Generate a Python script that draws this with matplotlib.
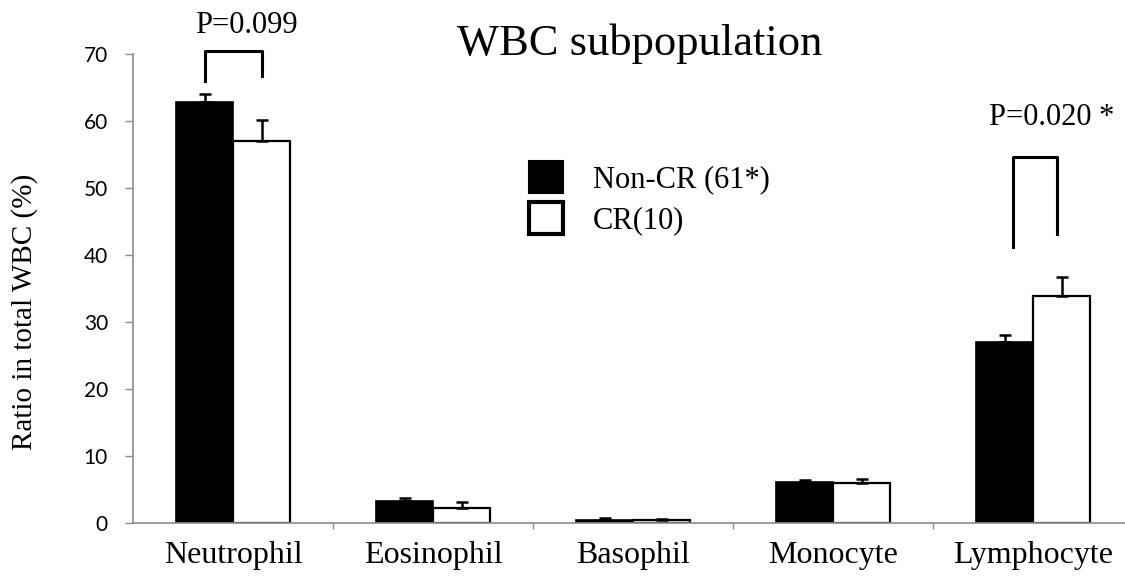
import matplotlib
matplotlib.use("Agg")
import matplotlib.pyplot as plt
from matplotlib.patches import Patch
import numpy as np

# data
cells = ["Neutrophil", "Eosinophil", "Basophil", "Monocyte", "Lymphocyte"]
noncr = [62.9, 3.3, 0.5, 6.1, 27.0]
noncr_err = [1.2, 0.4, 0.2, 0.3, 1.1]
cr = [57.0, 2.3, 0.4, 5.9, 33.9]
cr_err = [3.2, 0.8, 0.2, 0.7, 2.8]
yticks = [0, 10, 20, 30, 40, 50, 60, 70]

serif = "Liberation Serif"
sans = "Lato"
gray = "#8c8c8c"

fig = plt.figure(figsize=(11.25, 5.79), dpi=100)
ax = fig.add_axes([133 / 1125, 56 / 579, 992 / 1125, 469 / 579])

x = np.arange(len(cells))
w = 0.285
ax.bar(x - w / 2, noncr, w, color="black", edgecolor="black", linewidth=1.2, zorder=2)
ax.bar(x + w / 2, cr, w, color="white", edgecolor="black", linewidth=1.6, zorder=2)
# error bars upward only
ax.errorbar(x - w / 2, noncr, yerr=[np.zeros(5), noncr_err], fmt="none",
            ecolor="black", elinewidth=1.8, capsize=4.5, capthick=1.8, zorder=3)
ax.errorbar(x + w / 2, cr, yerr=[np.zeros(5), cr_err], fmt="none",
            ecolor="black", elinewidth=1.8, capsize=4.5, capthick=1.8, zorder=3)

# significance brackets
ax.plot([-w / 2, -w / 2, w / 2, w / 2], [66.0, 70.4, 70.4, 66.7],
        color="black", lw=2.2, clip_on=False, zorder=4)
ax.text(0.065, 73.1, "P=0.099", family=serif, fontsize=22, ha="center",
        va="baseline", clip_on=False)
ax.plot([3.9, 3.9, 4.12, 4.12], [41.2, 54.6, 54.6, 43.1],
        color="black", lw=2.2, clip_on=False, zorder=4)
ax.text(4.095, 59.4, "P=0.020 *", family=serif, fontsize=22, ha="center",
        va="baseline", clip_on=False)

ax.set_xlim(-0.5, 4.46)
ax.set_ylim(0, 70)
ax.set_yticks(yticks)
ax.set_xticks(x)
ax.set_xticklabels(cells, family=serif, fontsize=23)
ax.set_xticks(np.arange(0.5, 4.0, 1.0), minor=True)
ax.tick_params(axis="x", which="major", length=0, pad=13)
ax.tick_params(axis="x", which="minor", length=4.5, width=1, color=gray, direction="out")
ax.tick_params(axis="y", length=6, width=1, color=gray, pad=12, labelsize=15)
for lab in ax.get_yticklabels():
    lab.set_family(sans)

for s in ["top", "right"]:
    ax.spines[s].set_visible(False)
for s in ["left", "bottom"]:
    ax.spines[s].set_color(gray)
    ax.spines[s].set_linewidth(1.2)
    ax.spines[s].set_zorder(5)

ax.set_ylabel("Ratio in total WBC (%)", family=serif, fontsize=21,
              va="center", ha="center")
ax.yaxis.set_label_coords(-0.109, 0.45)

fig.text(640 / 1125, 1 - 55 / 579, "WBC subpopulation", family=serif,
         fontsize=32, ha="center", va="baseline")

handles = [Patch(facecolor="black", edgecolor="black", linewidth=1.5),
           Patch(facecolor="white", edgecolor="black", linewidth=3)]
ax.legend(handles, ["Non-CR (61*)", "CR(10)"], loc="upper left",
          bbox_to_anchor=(529 / 1125, 1 - 161 / 579), bbox_transform=fig.transFigure,
          frameon=False, prop={"family": serif, "size": 22}, handlelength=1.1,
          handleheight=1.25, handletextpad=1.0, labelspacing=0.25, borderpad=0,
          borderaxespad=0)

fig.savefig("out.png", dpi=100)
